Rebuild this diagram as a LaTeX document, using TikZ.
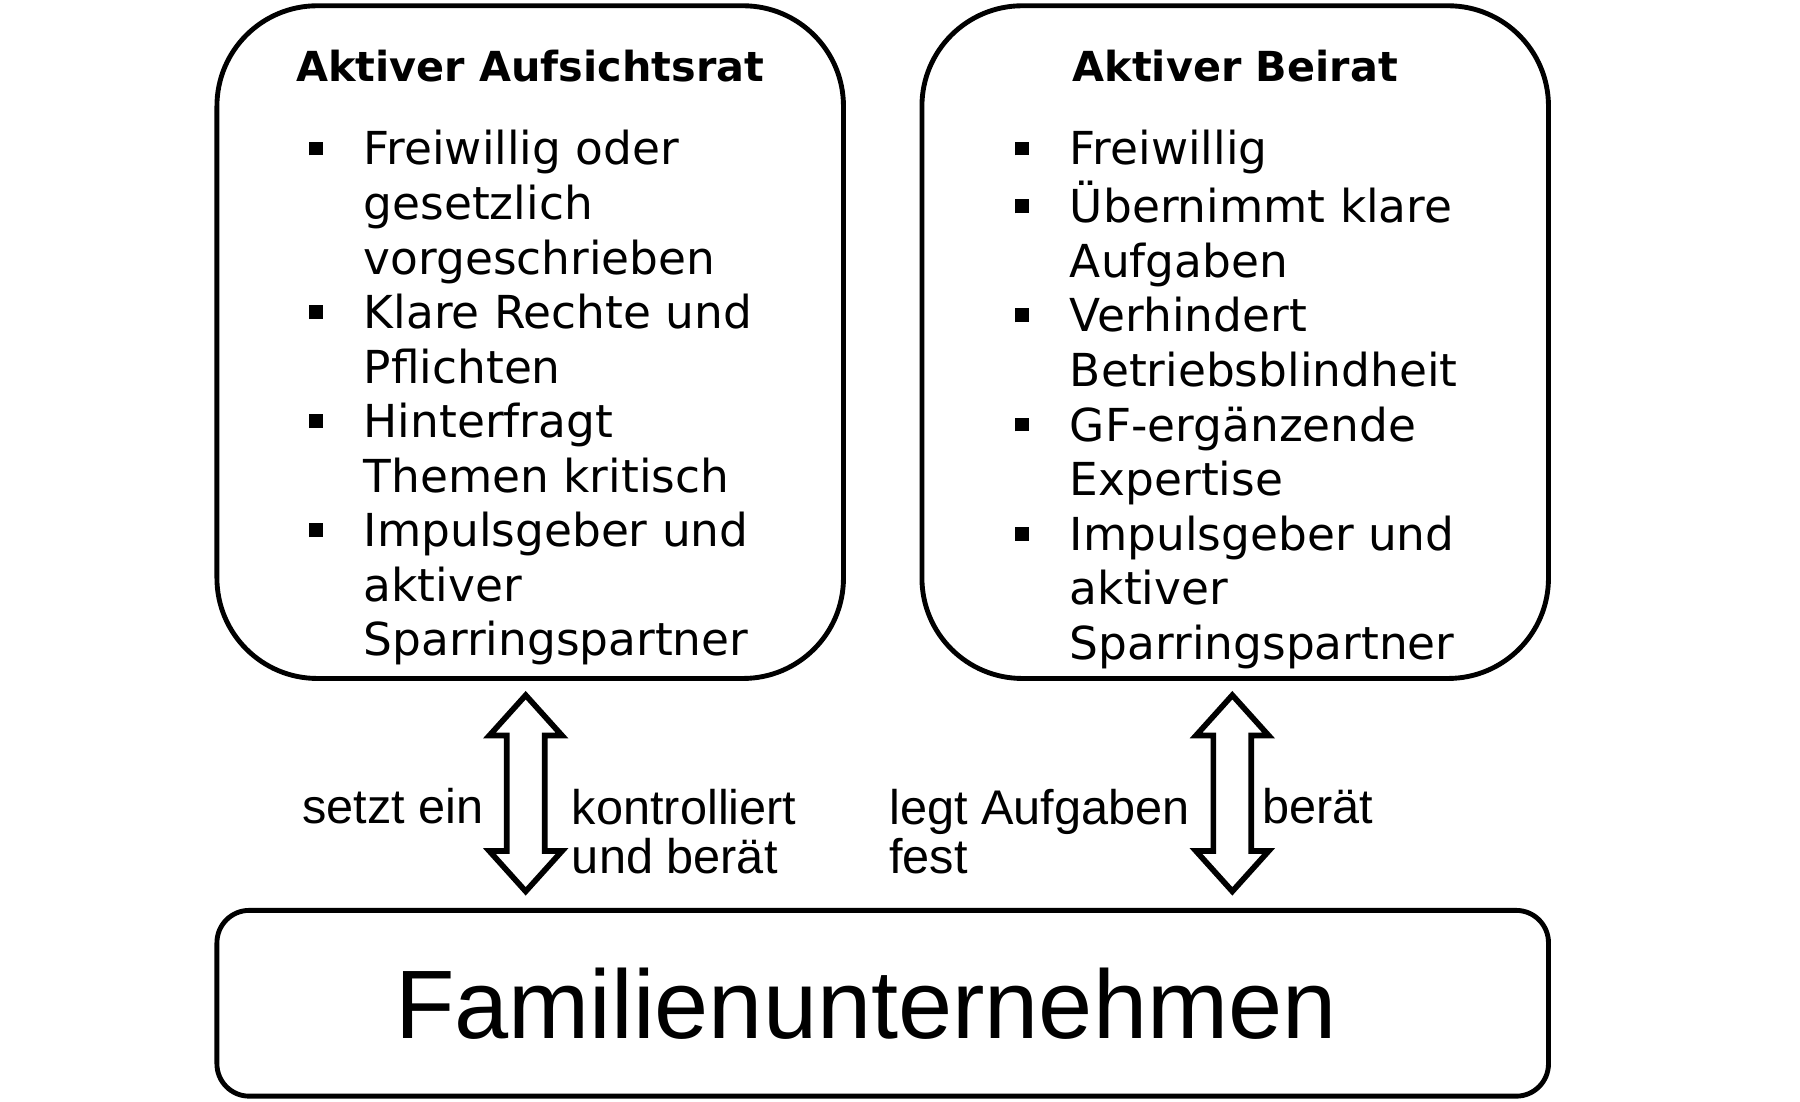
\documentclass[tikz,border=0pt]{standalone}
\usepackage{fontspec}
\usepackage{tikz}
\usetikzlibrary{shapes.arrows}

\newfontfamily\boxfont{DejaVu Sans}
\newfontfamily\lblfont{Liberation Sans}
\newcommand{\bul}{\rule[0.083cm]{0.12cm}{0.12cm}}

\tikzset{
    gremium/.style={draw, line width=1.2pt, rounded corners=0.87cm, minimum width=5.43cm, minimum height=5.83cm},
    titel/.style={anchor=base, inner sep=0pt, font={\boxfont\bfseries\fontsize{10.2}{12}\selectfont}},
    liste/.style={anchor=base west, inner sep=0pt, font={\boxfont\fontsize{11.2}{13.45}\selectfont}},
    pfeil/.style={draw, line width=1.4pt, double arrow, rotate=90, minimum height=1.70cm, inner xsep=0pt, inner ysep=0.14cm, double arrow head extend=0.15cm, double arrow tip angle=84},
    beschr/.style={inner sep=0pt, align=left, font={\lblfont\fontsize{12}{12.2}\selectfont}}
}

\begin{document}
\begin{tikzpicture}
                \useasboundingbox (0,0) rectangle (15.6,-9.542);

                \node[gremium] (aufsicht) at (4.595, -2.965) {};
                \node[gremium] (beirat) at (10.705, -2.965) {};
                \node[draw, line width=1.2pt, rounded corners=0.28cm, minimum width=11.54cm, minimum height=1.61cm, font={\lblfont\fontsize{24}{28}\selectfont}] (familie) at (7.65, -8.695) {\hspace*{-0.29cm}Familienunternehmen};

                \node[titel] (titelA) at (4.595, -0.71) {Aktiver Aufsichtsrat};
                \node[titel] (titelB) at (10.705, -0.71) {Aktiver Beirat};

                \node[liste] (listeA) at (2.67, -1.43) {\begin{tabular}[t]{@{}l@{\hspace{0.356cm}}l@{}}
                    \bul & Freiwillig oder\\
                         & gesetzlich\\
                         & vorgeschrieben\\
                    \bul & Klare Rechte und\\
                         & Pflichten\\
                    \bul & Hinterfragt\\
                         & Themen kritisch\\
                    \bul & Impulsgeber und\\
                         & aktiver\\
                         & Sparringspartner
                \end{tabular}};
                \node[liste] (listeB) at (8.79, -1.43) {\begin{tabular}[t]{@{}l@{\hspace{0.356cm}}l@{}}
                    \bul & Freiwillig\\
                    \bul & Übernimmt klare\\
                         & Aufgaben\\
                    \bul & Verhindert\\
                         & Betriebsblindheit\\
                    \bul & GF-ergänzende\\
                         & Expertise\\
                    \bul & Impulsgeber und\\
                         & aktiver\\
                         & Sparringspartner
                \end{tabular}};

                \node[pfeil] (pfeilA) at (4.556, -6.875) {};
                \node[pfeil] (pfeilB) at (10.68, -6.875) {};

                \node[beschr, anchor=base east] (setzt) at (4.20, -7.14) {setzt ein};
                \node[beschr, anchor=base west] (kontrolle) at (4.95, -7.57) {kontrolliert\\und berät};
                \node[beschr, anchor=base west] (festlegen) at (7.70, -7.57) {legt Aufgaben\\fest};
                \node[beschr, anchor=base west] (beraten) at (10.935, -7.14) {berät};
            \end{tikzpicture}
\end{document}
